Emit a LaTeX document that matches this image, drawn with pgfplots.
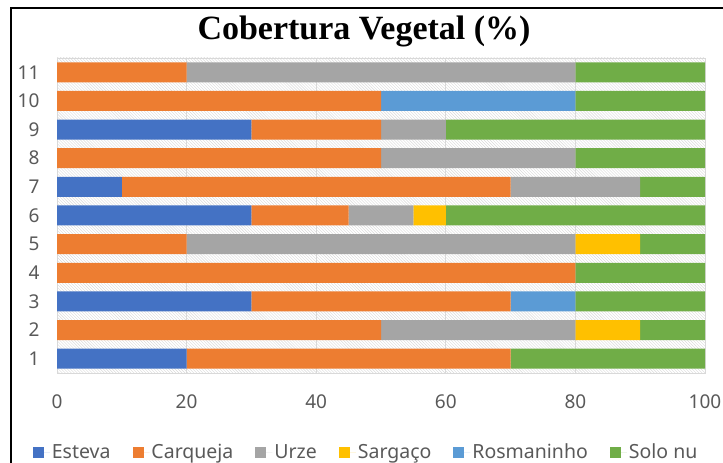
\documentclass[border=0pt]{standalone}
\usepackage{pgfplots}
\pgfplotsset{compat=1.18}
\usepackage{fontspec}
\setmainfont{Noto Sans}
\newfontfamily\titlefont{Liberation Serif}
\usetikzlibrary{patterns}
\definecolor{cEsteva}{HTML}{4472C4}
\definecolor{cCarqueja}{HTML}{ED7D31}
\definecolor{cUrze}{HTML}{A5A5A5}
\definecolor{cSargaco}{HTML}{FFC000}
\definecolor{cRosm}{HTML}{5B9BD5}
\definecolor{cSolo}{HTML}{70AD47}
\definecolor{gridc}{HTML}{D9D9D9}
\definecolor{tickc}{HTML}{595959}
\begin{document}
\begin{tikzpicture}[x=1bp,y=1bp]
\useasboundingbox (0,0) rectangle (723,463);
\draw[line width=2.5bp] (11,-5) -- (11,455) -- (730,455);
\node[font=\titlefont\bfseries\fontsize{34bp}{36bp}\selectfont] at (364,432) {Cobertura Vegetal (\%)};
\begin{axis}[
  at={(57bp,90bp)}, anchor=south west, scale only axis,
  width=648bp, height=315bp,
  xbar stacked, bar width=20bp,
  xmin=0, xmax=100, ymin=0.5, ymax=11.5,
  ytick={1,...,11}, xtick={0,20,...,100},
  /pgf/number format/assume math mode=true,
  xmajorgrids, grid style={draw=gridc, line width=0.8bp},
  axis line style={draw=gridc, line width=0.8bp},
  major tick length=0pt,
  axis background/.style={pattern=north west lines, pattern color=gridc},
  tick label style={font=\fontsize{19bp}{21bp}\selectfont, text=tickc},
  yticklabel style={xshift=-14bp},
  xticklabel style={yshift=-18bp},
  legend columns=6,
  legend style={at={(0.477,-0.251)}, anchor=center, draw=none, fill=none,
    font=\fontsize{19.5bp}{21bp}\selectfont, text=tickc,
    /tikz/every even column/.append style={column sep=20bp}},
  legend image code/.code={\path (0bp,0bp) -- (17bp,0bp); \fill[#1] (0bp,-5.5bp) rectangle (11bp,5.5bp);},
  every axis plot/.append style={draw=none},
]
\addplot[fill=cEsteva] coordinates {(20,1)(0,2)(30,3)(0,4)(0,5)(30,6)(10,7)(0,8)(30,9)(0,10)(0,11)};
\addplot[fill=cCarqueja] coordinates {(50,1)(50,2)(40,3)(80,4)(20,5)(15,6)(60,7)(50,8)(20,9)(50,10)(20,11)};
\addplot[fill=cUrze] coordinates {(0,1)(30,2)(0,3)(0,4)(60,5)(10,6)(20,7)(30,8)(10,9)(0,10)(60,11)};
\addplot[fill=cSargaco] coordinates {(0,1)(10,2)(0,3)(0,4)(10,5)(5,6)(0,7)(0,8)(0,9)(0,10)(0,11)};
\addplot[fill=cRosm] coordinates {(0,1)(0,2)(10,3)(0,4)(0,5)(0,6)(0,7)(0,8)(0,9)(30,10)(0,11)};
\addplot[fill=cSolo] coordinates {(30,1)(10,2)(20,3)(20,4)(10,5)(40,6)(10,7)(20,8)(40,9)(20,10)(20,11)};
\legend{Esteva, Carqueja, Urze, Sargaço, Rosmaninho, Solo nu}
\end{axis}
\end{tikzpicture}
\end{document}
